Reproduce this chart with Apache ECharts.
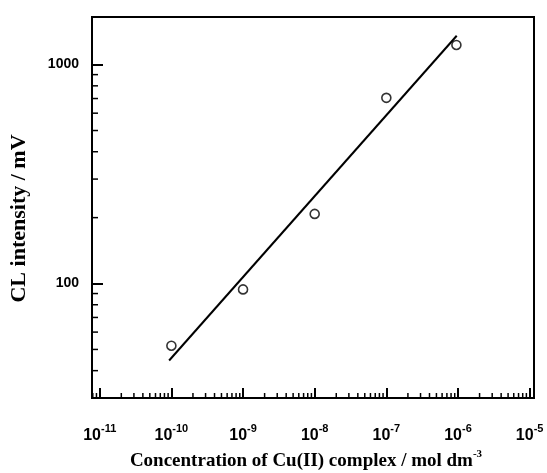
<!DOCTYPE html>
<html>
<head>
<meta charset="utf-8" />
<title>CL intensity vs Cu(II) complex concentration</title>
<script type="text/javascript" src="https://cdn.jsdelivr.net/npm/echarts@6/dist/echarts.min.js"></script>
<style type="text/css">
	html, body { margin: 0; padding: 0; background: #fff; }
	#main { width: 547px; height: 473px; }
</style>
</head>
<body>
<div id="main"></div>
<script type="text/javascript">
// measured points (mol dm-3, mV)
var concentration = [1e-10, 1e-9, 1e-8, 1e-7, 0.95e-6];
var intensity = [52, 94, 208, 705, 1230];
// end points of the fitted line
var fitConc = [0.93e-10, 0.96e-6];
var fitIntensity = [44.5, 1355];
// axis ranges
var xRange = [7.8e-12, 1.15e-5];
var yRange = [30, 1650];

// 2..9 minor ticks inside each decade
function minorTicks(lo, hi) {
	var out = [];
	for (var e = Math.floor(Math.log10(lo)); e <= Math.ceil(Math.log10(hi)); e++) {
		for (var m = 2; m <= 9; m++) {
			var v = m * Math.pow(10, e);
			if (v > lo && v < hi) out.push(v);
		}
	}
	return out;
}
var xMinor = minorTicks(xRange[0], xRange[1]);
var yMinor = minorTicks(yRange[0], yRange[1]);

function powerOfTen(v) {
	var l = Math.log10(v);
	var e = Math.round(l);
	return Math.abs(l - e) < 1e-6 ? e : null;
}

var myChart = echarts.init(document.getElementById('main'));
var option = {
	animation: false,
	backgroundColor: '#fff',
	grid: {
		left: 92, right: 13, top: 17, bottom: 75,
		outerBoundsMode: 'none',
		containLabel: false,
		show: true, borderColor: '#000', borderWidth: 2
	},
	xAxis: {
		type: 'log',
		logBase: 10,
		min: xRange[0],
		max: xRange[1],
		splitNumber: 6,
		name: '{t|Concentration of Cu(II) complex / mol dm}{s|-3}',
		nameLocation: 'middle',
		nameGap: 47,
		nameTextStyle: {
			padding: [0, 14, 0, 0],
			rich: {
				t: { fontFamily: 'Liberation Serif', fontWeight: 'bold', fontSize: 19, color: '#000', lineHeight: 22, verticalAlign: 'bottom' },
				s: { fontFamily: 'Liberation Serif', fontWeight: 'bold', fontSize: 11, color: '#000', lineHeight: 16, verticalAlign: 'top' }
			}
		},
		axisLine: { lineStyle: { color: '#000', width: 2 } },
		axisTick: { inside: true, length: 10, lineStyle: { color: '#000', width: 2 } },
		splitLine: { show: false },
		axisLabel: {
			margin: 25,
			formatter: function (v) {
				var e = powerOfTen(v);
				return e === null ? '' : '{b|10}{s|' + e + '}';
			},
			rich: {
				b: { fontFamily: 'Liberation Sans', fontWeight: 'bold', fontSize: 16, color: '#000', lineHeight: 21, verticalAlign: 'bottom' },
				s: { fontFamily: 'Liberation Sans', fontWeight: 'bold', fontSize: 11, color: '#000', lineHeight: 12, verticalAlign: 'top' }
			}
		}
	},
	yAxis: {
		type: 'log',
		logBase: 10,
		min: yRange[0],
		max: yRange[1],
		name: 'CL intensity / mV',
		nameLocation: 'middle',
		nameGap: 62,
		nameRotate: 90,
		nameTextStyle: {
			fontFamily: 'Liberation Serif', fontWeight: 'bold', fontSize: 22, color: '#000',
			padding: [0, 22, 0, 0]
		},
		axisLine: { lineStyle: { color: '#000', width: 2 } },
		axisTick: { inside: true, length: 11, lineStyle: { color: '#000', width: 2 } },
		splitLine: { show: false },
		axisLabel: {
			margin: 13,
			fontFamily: 'Liberation Sans',
			fontWeight: 'bold',
			fontSize: 14,
			color: '#000',
			formatter: function (v) {
				return powerOfTen(v) === null ? '' : String(Math.round(v));
			}
		}
	},
	series: [
		{
			type: 'custom',
			silent: true,
			clip: false,
			z: 3,
			data: xMinor.map(function (v) { return [v, yRange[0]]; }),
			renderItem: function (params, api) {
				var p = api.coord([api.value(0), yRange[0]]);
				return {
					type: 'line',
					shape: { x1: p[0], y1: p[1], x2: p[0], y2: p[1] - 5 },
					style: { stroke: '#000', lineWidth: 1.5 }
				};
			}
		},
		{
			type: 'custom',
			silent: true,
			clip: false,
			z: 3,
			data: yMinor.map(function (v) { return [xRange[0], v]; }),
			renderItem: function (params, api) {
				var p = api.coord([xRange[0], api.value(1)]);
				return {
					type: 'line',
					shape: { x1: p[0], y1: p[1], x2: p[0] + 6, y2: p[1] },
					style: { stroke: '#000', lineWidth: 1.5 }
				};
			}
		},
		{
			type: 'line',
			showSymbol: false,
			silent: true,
			lineStyle: { color: '#000', width: 2 },
			data: fitConc.map(function (c, i) { return [c, fitIntensity[i]]; })
		},
		{
			type: 'scatter',
			symbol: 'circle',
			symbolSize: 9,
			z: 4,
			itemStyle: { color: '#fff', borderColor: '#000', borderWidth: 1.6 },
			data: concentration.map(function (c, i) { return [c, intensity[i]]; })
		}
	]
};
myChart.setOption(option);
</script>
</body>
</html>
